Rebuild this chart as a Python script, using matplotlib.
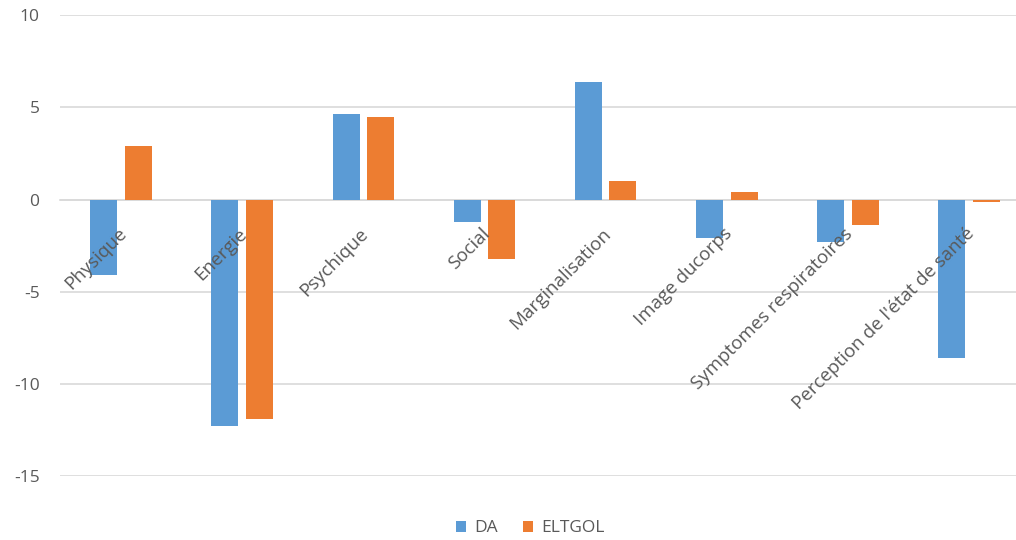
import numpy as np
from matplotlib import pyplot as plt
from matplotlib.transforms import ScaledTranslation

categories = ["Physique", "Energie", "Psychique", "Social", "Marginalisation",
              "Image ducorps", "Symptomes respiratoires", "Perception de l'état de santé"]
da = [-4.1, -12.3, 4.65, -1.2, 6.4, -2.1, -2.3, -8.6]
eltgol = [2.9, -11.9, 4.5, -3.2, 1.0, 0.4, -1.4, -0.15]

plt.rcParams["font.family"] = ["Open Sans", "DejaVu Sans"]
plt.rcParams["axes.unicode_minus"] = False
grey = "#595959"

fig = plt.figure(figsize=(10.16, 5.4), dpi=100)
# plot area runs past the right edge, as in the reference (clipped chart)
ax = fig.add_axes([0.0595, 0.118, 0.954, 0.854])

x = np.arange(len(categories))
w = 0.223
ax.bar(x - 0.143, da, w, color="#5B9BD5", label="DA", zorder=3)
ax.bar(x + 0.143, eltgol, w, color="#ED7D31", label="ELTGOL", zorder=3)

ax.set_xlim(-0.5, len(categories) - 0.5)
ax.set_ylim(-15, 10)
ax.set_yticks([-15, -10, -5, 0, 5, 10])
ax.yaxis.grid(True, color="#d9d9d9", linewidth=1.2, zorder=0)
ax.tick_params(axis="y", length=0, labelsize=12.5, labelcolor=grey, pad=15)

ax.spines["bottom"].set_position(("data", 0))
ax.spines["bottom"].set_color("#d9d9d9")
ax.spines["bottom"].set_linewidth(1.2)
for s in ["top", "right", "left"]:
    ax.spines[s].set_visible(False)
ax.set_xticks(x)
ax.set_xticklabels(categories, rotation=45, ha="right", va="top",
                   rotation_mode="anchor")
ax.tick_params(axis="x", length=0, labelsize=13.5, labelcolor=grey, pad=18)
shift = ScaledTranslation(-4 / 100, 0, fig.dpi_scale_trans)
for lab in ax.get_xticklabels():
    lab.set_transform(lab.get_transform() + shift)
ax.xaxis.set_zorder(5)

fig.legend(loc="lower center", bbox_to_anchor=(0.522, -0.022), ncol=2, frameon=False,
           fontsize=12.5, labelcolor=grey, handlelength=0.6, handleheight=0.6,
           columnspacing=1.4, handletextpad=0.5)

plt.savefig("out.png", dpi=100)
